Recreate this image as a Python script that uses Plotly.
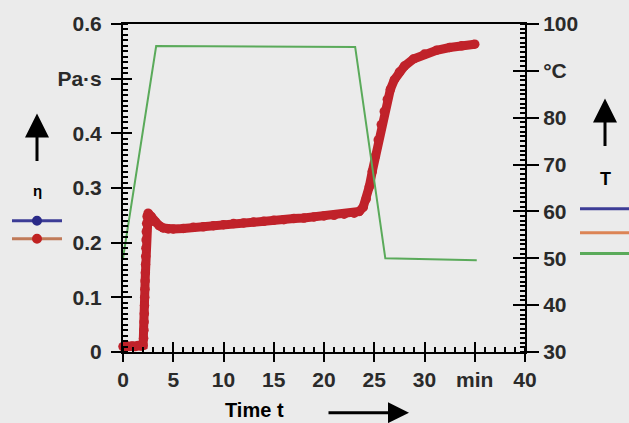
import plotly.graph_objects as go

# ---- data ----
time_eta = [0, 0.3, 0.6, 0.9, 1.2, 1.5, 1.8, 2.0,
            2.05, 2.08, 2.10, 2.12, 2.14, 2.16, 2.18, 2.20, 2.22, 2.24, 2.26, 2.28, 2.30, 2.32, 2.35, 2.40,
            2.5, 2.8, 3.2, 3.6, 4.0, 4.5, 5, 6, 7, 8, 9, 10, 11, 12, 13, 14, 15, 16, 17, 18, 19, 20,
            21, 22, 23, 23.5, 23.9, 24.2, 24.5, 24.8, 25.1, 25.4, 25.7, 26.0, 26.3, 26.6, 27.0, 27.5,
            28.0, 28.9, 30, 31.2, 32.5, 33.7, 35]
eta = [0.010, 0.012, 0.010, 0.011, 0.010, 0.012, 0.011, 0.012,
       0.025, 0.040, 0.055, 0.070, 0.085, 0.100, 0.115, 0.130, 0.145, 0.160, 0.175, 0.190, 0.205, 0.220, 0.235, 0.248,
       0.254, 0.248, 0.238, 0.231, 0.227, 0.225, 0.225, 0.226, 0.228, 0.229, 0.231, 0.233, 0.235, 0.236, 0.238, 0.239,
       0.241, 0.242, 0.244, 0.245, 0.247, 0.249,
       0.250, 0.252, 0.254, 0.257, 0.265, 0.280, 0.302, 0.330, 0.358, 0.388, 0.416, 0.440, 0.462, 0.480, 0.498, 0.512,
       0.523, 0.536, 0.545, 0.552, 0.557, 0.560, 0.563]

time_T = [0, 3.3, 23.1, 26.1, 35.2]
temp_T = [50, 95.3, 95.1, 50, 49.6]

x_ticks = [0, 5, 10, 15, 20, 25, 30, 35, 40]
x_ticklabels = ['0', '5', '10', '15', '20', '25', '30', 'min', '40']
y_ticks = [0, 0.1, 0.2, 0.3, 0.4, 0.5, 0.6]
y_ticklabels = ['0', '0.1', '0.2', '0.3', '0.4', 'Pa·s', '0.6']
y2_ticks = [30, 40, 50, 60, 70, 80, 90, 100]
y2_ticklabels = ['30', '40', '50', '60', '70', '80', '°C', '100']

# ---- style ----
BG = '#ebebeb'
INK = '#2a2a2a'
FONT = dict(family='Liberation Sans, Arial, sans-serif', size=21, color=INK, weight='bold')
RED = '#c0222a'
GREEN = '#5aaa5a'

# plot area in pixels: x 123..525, y 22..352
L, R, T, B = 123, 525, 22, 352
def px(X):
    return (X - L) / (R - L)
def py(Y):
    return (B - Y) / (B - T)

fig = go.Figure()
fig.add_trace(go.Scatter(x=time_eta, y=eta, mode='lines+markers',
                         line=dict(color=RED, width=9),
                         marker=dict(color=RED, size=9.5),
                         cliponaxis=False, showlegend=False, hoverinfo='x+y'))
fig.add_trace(go.Scatter(x=time_T, y=temp_T, yaxis='y2', mode='lines',
                         line=dict(color=GREEN, width=2),
                         showlegend=False))
# invisible traces to activate overlay tick axes
fig.add_trace(go.Scatter(x=time_T, y=temp_T, xaxis='x3', yaxis='y3', mode='lines',
                         line=dict(width=0), opacity=0, showlegend=False, hoverinfo='skip'))
fig.add_trace(go.Scatter(x=time_T, y=temp_T, xaxis='x3', yaxis='y4', mode='lines',
                         line=dict(width=0), opacity=0, showlegend=False, hoverinfo='skip'))

axis_common = dict(showgrid=False, zeroline=False, linecolor='black', linewidth=2,
                   tickcolor='black', tickwidth=2, tickfont=FONT)

fig.update_layout(
    width=629, height=423,
    margin=dict(l=L, r=629 - R, t=T, b=423 - B),
    paper_bgcolor=BG, plot_bgcolor=BG,
    showlegend=False,
    xaxis=dict(range=[0, 40], tickmode='array', tickvals=x_ticks, ticktext=x_ticklabels,
               ticks='outside', ticklen=8, showline=True, mirror=True,
               minor=dict(dtick=1, ticks='inside', ticklen=5, tickcolor='black', tickwidth=1.5),
               **axis_common),
    yaxis=dict(range=[0, 0.6], tickmode='array', tickvals=y_ticks, ticktext=y_ticklabels,
               ticks='outside', ticklen=10, showline=True, ticklabelstandoff=5,
               minor=dict(dtick=0.01, ticks='inside', ticklen=5, tickcolor='black', tickwidth=1.5),
               **axis_common),
    yaxis2=dict(range=[30, 100], overlaying='y', side='right', anchor='x',
                tickmode='array', tickvals=y2_ticks, ticktext=y2_ticklabels,
                ticks='outside', ticklen=12, showline=True, ticklabelstandoff=0,
                minor=dict(dtick=1, ticks='inside', ticklen=5, tickcolor='black', tickwidth=1.5),
                **axis_common),
    xaxis3=dict(range=[0, 40], overlaying='x', anchor='y', tickmode='array', tickvals=x_ticks,
                ticks='inside', ticklen=10, showticklabels=False, showline=False,
                showgrid=False, zeroline=False, tickcolor='black', tickwidth=2),
    yaxis3=dict(range=[0, 0.6], overlaying='y', anchor='x', side='left', tickmode='array',
                tickvals=y_ticks, ticks='inside', ticklen=9, showticklabels=False,
                showline=False, showgrid=False, zeroline=False, tickcolor='black', tickwidth=2),
    yaxis4=dict(range=[30, 100], overlaying='y', anchor='x', side='right', tickmode='array',
                tickvals=y2_ticks, ticks='inside', ticklen=12, showticklabels=False,
                showline=False, showgrid=False, zeroline=False, tickcolor='black', tickwidth=2),
)

shapes = []
def hline(x0, x1, y, color, w=3):
    shapes.append(dict(type='line', xref='paper', yref='paper', x0=px(x0), x1=px(x1),
                       y0=py(y), y1=py(y), line=dict(color=color, width=w)))
def dot(xc, yc, r, color):
    shapes.append(dict(type='circle', xref='paper', yref='paper', x0=px(xc - r), x1=px(xc + r),
                       y0=py(yc + r), y1=py(yc - r), fillcolor=color, line=dict(width=0)))

# left legend keys (eta)
hline(12, 62, 220, '#3c3c96')
dot(37, 220, 5, '#2a2a88')
hline(12, 62, 238, '#c07a58')
dot(37, 238, 5, '#c02222')
# right legend keys (T)
hline(580, 629, 208, '#3c3c96')
hline(580, 629, 232, '#dc8455')
hline(580, 629, 253, '#5aaa5a')
fig.update_layout(shapes=shapes)

ann = []
def arrow(hx, hy, tx, ty, w=3, size=1.6):
    ann.append(dict(xref='paper', yref='paper', x=px(hx), y=py(hy), ax=tx - hx, ay=ty - hy,
                    text='', showarrow=True, arrowhead=2, arrowsize=size, arrowwidth=w,
                    arrowcolor='black'))
arrow(37, 112, 37, 161)
arrow(605, 97, 605, 146)
arrow(409, 413, 327, 413, 3, 1.4)

def label(txt, X, Y, size=16):
    ann.append(dict(xref='paper', yref='paper', x=px(X), y=py(Y), text=txt, showarrow=False,
                    xanchor='center', yanchor='middle',
                    font=dict(family='Liberation Sans, Arial, sans-serif', size=size,
                              color='black', weight='bold')))
label('η', 37, 190, 15)
label('T', 605, 178, 18)
label('Time t', 254, 410, 20)
fig.update_layout(annotations=ann)

fig.write_html('out.html', config={'displayModeBar': False},
               post_script="document.body.style.margin='0';document.body.style.padding='0';")
